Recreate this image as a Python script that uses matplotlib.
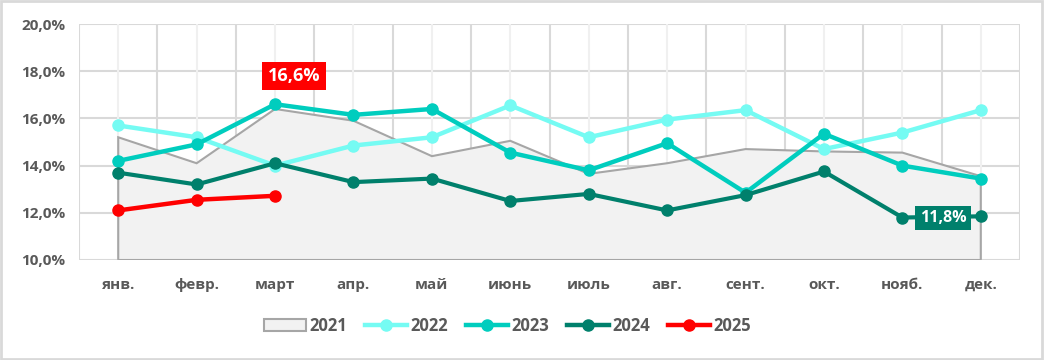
import matplotlib
matplotlib.use("Agg")
import matplotlib.pyplot as plt
from matplotlib.patches import Rectangle
from matplotlib.lines import Line2D
from matplotlib.ticker import FuncFormatter, MultipleLocator
import numpy as np

months = ['янв.', 'февр.', 'март', 'апр.', 'май', 'июнь', 'июль',
          'авг.', 'сент.', 'окт.', 'нояб.', 'дек.']

y2021 = [15.2, 14.1, 16.4, 15.9, 14.4, 15.05, 13.65, 14.1, 14.7, 14.6, 14.55, 13.55]
y2022 = [15.7, 15.2, 14.0, 14.85, 15.2, 16.55, 15.2, 15.95, 16.35, 14.7, 15.4, 16.35]
y2023 = [14.2, 14.9, 16.6, 16.15, 16.4, 14.55, 13.8, 14.95, 12.85, 15.35, 14.0, 13.45]
y2024 = [13.7, 13.2, 14.1, 13.3, 13.45, 12.5, 12.8, 12.1, 12.75, 13.75, 11.8, 11.85]
y2025 = [12.1, 12.55, 12.72]

c2021_fill, c2021_edge = '#F2F2F2', '#A6A6A6'
c2022, c2023, c2024, c2025 = '#75FBF3', '#00CDBE', '#00806C', '#FF0000'
txt = '#595959'

plt.rcParams['font.family'] = ['Open Sans', 'DejaVu Sans']

fig = plt.figure(figsize=(10.44, 3.6), dpi=100)
ax = fig.add_axes([0.0757, 0.2778, 0.9013, 0.6555])

x = np.arange(len(months))

# 2021 as grey area
poly_x = np.concatenate([[x[0]], x, [x[-1]]])
poly_y = np.concatenate([[10], y2021, [10]])
ax.fill(poly_x, poly_y, facecolor=c2021_fill, edgecolor=c2021_edge, linewidth=1.5, zorder=2)

ax.plot(x, y2022, color=c2022, lw=3.2, marker='o', ms=8, zorder=3, solid_capstyle='round')
ax.plot(x, y2023, color=c2023, lw=3.2, marker='o', ms=8, zorder=4, solid_capstyle='round')
ax.plot(x, y2024, color=c2024, lw=3.0, marker='o', ms=8, zorder=5, solid_capstyle='round')
ax.plot(x[:len(y2025)], y2025, color=c2025, lw=3.2, marker='o', ms=8, zorder=6, solid_capstyle='round')

ax.set_xlim(-0.5, 11.5)
ax.set_ylim(10, 20)
ax.yaxis.set_major_locator(MultipleLocator(2))
ax.yaxis.set_major_formatter(FuncFormatter(lambda v, p: f'{v:.1f}%'.replace('.', ',')))
ax.set_xticks(x)
ax.set_xticklabels(months)

for v in np.arange(10, 21, 2):
    ax.axhline(v, color='#D9D9D9', lw=1.5, zorder=1)
for v in x:
    ax.axvline(v, color='#F0F0F0', lw=1.5, zorder=1)
for v in np.arange(-0.5, 12, 1):
    ax.axvline(v, color='#D9D9D9', lw=1.5, zorder=1)

for s in ax.spines.values():
    s.set_visible(False)
ax.tick_params(axis='both', which='both', length=0, colors=txt, labelsize=11)
ax.tick_params(axis='x', pad=13)
ax.tick_params(axis='y', pad=10)
for lab in ax.get_xticklabels() + ax.get_yticklabels():
    lab.set_fontweight('bold')

# data labels
ax.text(2.24, 17.8, '16,6%', color='white', fontsize=13, fontweight='bold',
        ha='center', va='center', zorder=7,
        bbox=dict(boxstyle='square,pad=0.3', facecolor=c2025, edgecolor='none'))
ax.text(10.52, 11.78, '11,8%', color='white', fontsize=11.5, fontweight='bold',
        ha='center', va='center', zorder=7,
        bbox=dict(boxstyle='square,pad=0.28', facecolor=c2024, edgecolor='none'))

handles = [
    Rectangle((0, 0), 1, 1, facecolor=c2021_fill, edgecolor=c2021_edge, lw=1.5),
    Line2D([], [], color=c2022, lw=3.2, marker='o', ms=8),
    Line2D([], [], color=c2023, lw=3.2, marker='o', ms=8),
    Line2D([], [], color=c2024, lw=3.2, marker='o', ms=8),
    Line2D([], [], color=c2025, lw=3.2, marker='o', ms=8),
]
leg = fig.legend(handles, ['2021', '2022', '2023', '2024', '2025'], loc='center',
                 bbox_to_anchor=(0.486, 0.094), ncol=5, frameon=False,
                 handlelength=2.5, handletextpad=0.2, columnspacing=1.1,
                 prop={'weight': 'bold', 'size': 12})
for t in leg.get_texts():
    t.set_color(txt)

fig.patches.append(Rectangle((0.001, 0.002), 0.997, 0.995, transform=fig.transFigure,
                             fill=False, edgecolor='#D9D9D9', lw=2))

fig.savefig('out.png', dpi=100)
